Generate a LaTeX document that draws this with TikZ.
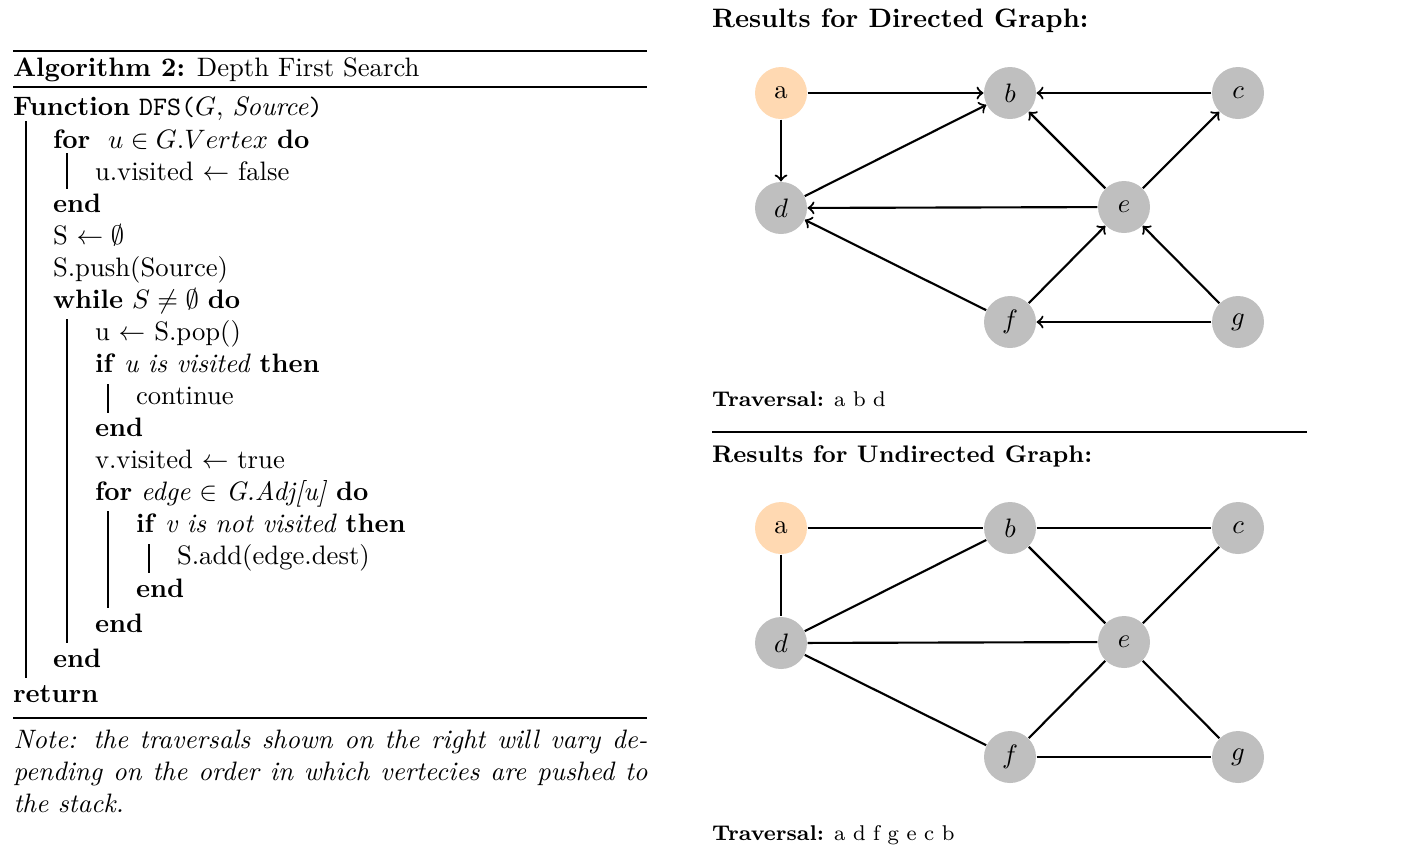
\documentclass[tikz,border=0pt]{standalone}
\usetikzlibrary{arrows}
\begin{document}
\begin{tikzpicture}[x=0.375pt,y=-0.375pt,
  algline/.style={anchor=base west, inner sep=0pt, outer sep=0pt},
  rulel/.style={line width=0.8pt},
  vbar/.style={line width=0.4pt},
  vtx/.style={circle, fill=lightgray, minimum size=19.5pt, inner sep=0pt},
  srcvtx/.style={vtx, fill=orange!30},
  uedge/.style={thick},
  darc/.style={thick,->}]
\useasboundingbox (0,0) rectangle (1415,860);

% ---------- Algorithm ----------
\draw[rulel] (13,51) -- (647,51);
\node[algline] (title) at (13,76) {\textbf{Algorithm 2:} Depth First Search};
\draw[rulel] (13,87) -- (647,87);

\node[algline] (l1) at (13,115) {\textbf{Function} \texttt{DFS(}$G$, \textit{Source}\texttt{)}};
\node[algline] (l2) at (53,148) {\textbf{for} \ $u \in G.Vertex$ \textbf{do}};
\node[algline] (l3) at (95,180) {u.visited $\leftarrow$ false};
\node[algline] (l4) at (53,212) {\textbf{end}};
\node[algline] (l5) at (53,244) {S $\leftarrow \emptyset$};
\node[algline] (l6) at (53,276) {S.push(Source)};
\node[algline] (l7) at (53,308) {\textbf{while} $S \neq \emptyset$ \textbf{do}};
\node[algline] (l8) at (95,340) {u $\leftarrow$ S.pop()};
\node[algline] (l9) at (95,372) {\textbf{if} \textit{u is visited} \textbf{then}};
\node[algline] (l10) at (136,404) {continue};
\node[algline] (l11) at (95,436) {\textbf{end}};
\node[algline] (l12) at (95,468) {v.visited $\leftarrow$ true};
\node[algline] (l13) at (95,500) {\textbf{for} \textit{edge} $\in$ \textit{G.Adj[u]} \textbf{do}};
\node[algline] (l14) at (136,532) {\textbf{if} \textit{v is not visited} \textbf{then}};
\node[algline] (l15) at (177,564) {S.add(edge.dest)};
\node[algline] (l16) at (136,597) {\textbf{end}};
\node[algline] (l17) at (95,632) {\textbf{end}};
\node[algline] (l18) at (53,667) {\textbf{end}};
\node[algline] (l19) at (13,702) {\textbf{return}};

% block bars
\draw[vbar] (26,121) -- (26,678);
\draw[vbar] (67,153) -- (67,189);
\draw[vbar] (67,319) -- (67,643);
\draw[vbar] (108,384) -- (108,413);
\draw[vbar] (108,511) -- (108,608);
\draw[vbar] (149,544) -- (149,573);

\draw[rulel] (13,718) -- (647,718);
\node[anchor=north west, inner sep=0pt, text width=237.75pt, align=justify] (note) at (13,729)
  {\itshape Note: the traversals shown on the right will vary de-\linebreak pending on the order in which vertecies are pushed to\linebreak the stack.};

% ---------- Directed graph ----------
\node[algline] (h1) at (712,27) {\textbf{Results for Directed Graph:}};
\node[srcvtx] (a) at (781,93) {a};
\node[vtx] (b) at (1010,93) {$b$};
\node[vtx] (c) at (1238,93) {$c$};
\node[vtx] (d) at (781,208) {$d$};
\node[vtx] (e) at (1124,207) {$e$};
\node[vtx] (f) at (1010,322) {$f$};
\node[vtx] (g) at (1238,322) {$g$};
\draw[darc] (a) -- (b);
\draw[darc] (c) -- (b);
\draw[darc] (a) -- (d);
\draw[darc] (d) -- (b);
\draw[darc] (e) -- (b);
\draw[darc] (e) -- (c);
\draw[darc] (e) -- (d);
\draw[darc] (f) -- (d);
\draw[darc] (f) -- (e);
\draw[darc] (g) -- (e);
\draw[darc] (g) -- (f);
\node[algline] (t1) at (712,406) {\footnotesize\textbf{Traversal:} a b d};

\draw[line width=0.4pt] (712,432) -- (1307,432);

% ---------- Undirected graph ----------
\node[algline] (h2) at (712,462) {\small\textbf{Results for Undirected Graph:}};
\node[srcvtx] (ua) at (781,528) {a};
\node[vtx] (ub) at (1010,528) {$b$};
\node[vtx] (uc) at (1238,528) {$c$};
\node[vtx] (ud) at (781,643) {$d$};
\node[vtx] (ue) at (1124,642) {$e$};
\node[vtx] (uf) at (1010,757) {$f$};
\node[vtx] (ug) at (1238,757) {$g$};
\draw[uedge] (ua) -- (ub);
\draw[uedge] (ub) -- (uc);
\draw[uedge] (ua) -- (ud);
\draw[uedge] (ud) -- (ub);
\draw[uedge] (ub) -- (ue);
\draw[uedge] (uc) -- (ue);
\draw[uedge] (ud) -- (ue);
\draw[uedge] (ud) -- (uf);
\draw[uedge] (ue) -- (uf);
\draw[uedge] (ue) -- (ug);
\draw[uedge] (uf) -- (ug);
\node[algline] (t2) at (712,840) {\footnotesize\textbf{Traversal:} a d f g e c b};
\end{tikzpicture}
\end{document}
